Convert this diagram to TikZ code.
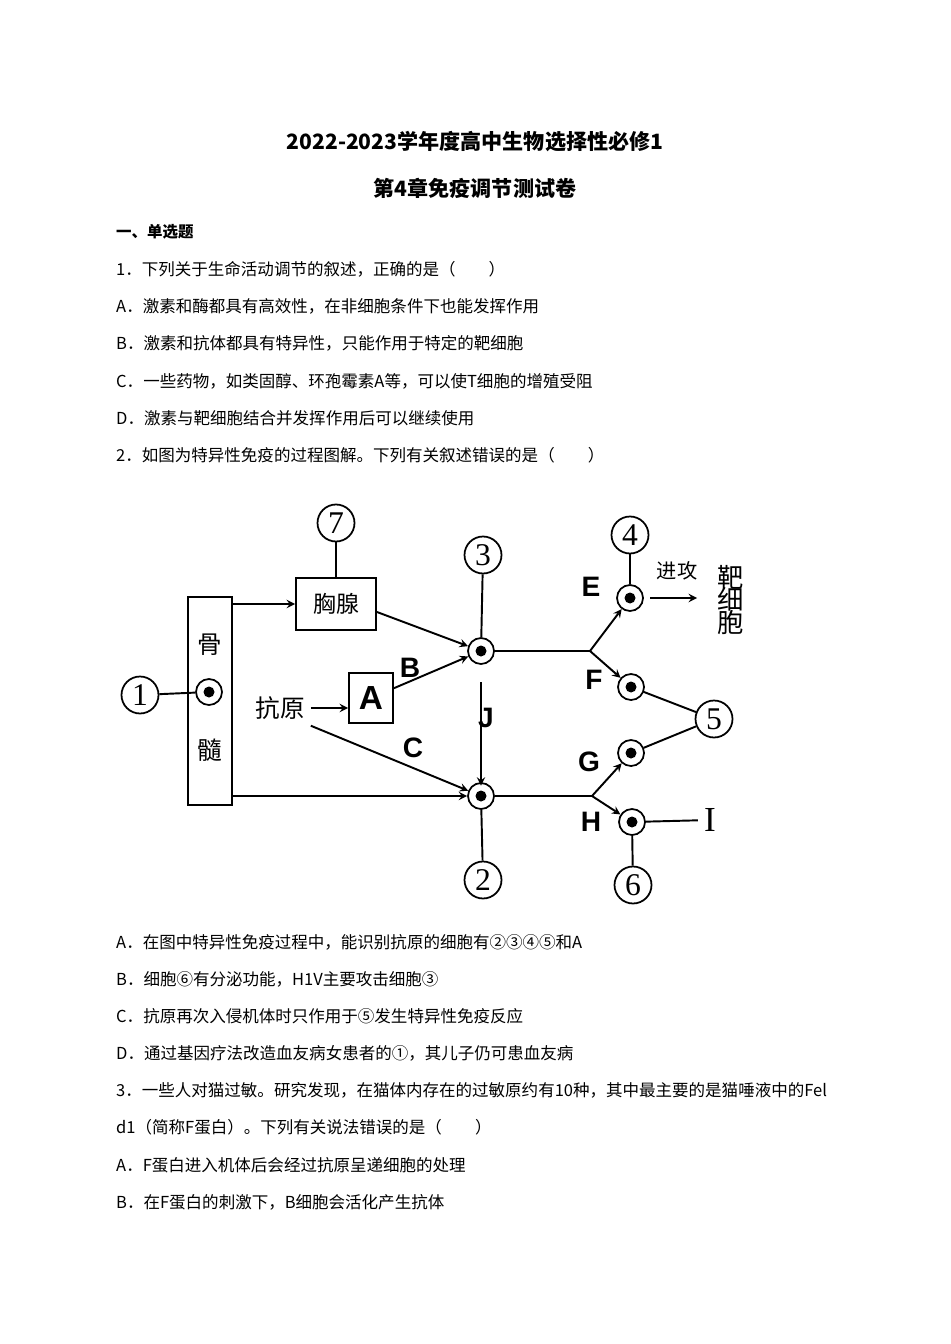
\documentclass[tikz,border=0pt]{standalone}
\usepackage{fontspec}
\setmainfont{Noto Sans CJK SC}
\newfontfamily\lab{Liberation Sans}
\newfontfamily\num{Liberation Serif}
\usetikzlibrary{positioning}
\tikzset{
    cell/.style={
    circle,draw=black,line width=1pt,minimum size=5.2mm,inner sep=0pt,
    path picture={\fill (path picture bounding box.center) circle (1.1mm);}
    },
    tag/.style={
    circle,draw=black,line width=1pt,minimum size=7.4mm,inner sep=0pt,font=\num\fontsize{18}{18}\selectfont
    },
    organ/.style={
    rectangle,draw=black,line width=1.1pt,font=\fontsize{13}{13}\selectfont
    },
    letter/.style={
    font=\lab\bfseries\fontsize{16}{16}\selectfont
    },
    line/.style={
    anchor=west,font=\fontsize{9.4}{9.4}\selectfont
    },
    conn/.style={line width=1.1pt},
}
\begin{document}
\begin{tikzpicture}[x=0.02cm,y=-0.02cm,>=stealth]
   \useasboundingbox (0,0) rectangle (950,1344);
   % header
   \node[font=\bfseries\fontsize{12}{12}\selectfont] (title1) at (475,142) {2022-2023学年度高中生物选择性必修1};
   \node[font=\bfseries\fontsize{12}{12}\selectfont] (title2) at (475,188) {第4章免疫调节测试卷};
   \node[line,font=\bfseries\fontsize{8.8}{8.8}\selectfont] (sec) at (110,232) {一、单选题};
   \node[line] (q1)  at (110,269) {1．下列关于生命活动调节的叙述，正确的是（　　）};
   \node[line] (q1a) at (110,306) {A．激素和酶都具有高效性，在非细胞条件下也能发挥作用};
   \node[line] (q1b) at (110,343) {B．激素和抗体都具有特异性，只能作用于特定的靶细胞};
   \node[line] (q1c) at (110,381) {C．一些药物，如类固醇、环孢霉素A等，可以使T细胞的增殖受阻};
   \node[line] (q1d) at (110,418) {D．激素与靶细胞结合并发挥作用后可以继续使用};
   \node[line] (q2)  at (110,455) {2．如图为特异性免疫的过程图解。下列有关叙述错误的是（　　）};

   % diagram
   \node[draw=black,line width=1.1pt,minimum width=8.8mm,minimum height=41.6mm] (marrow) at (210,701) {};
   \node[font=\fontsize{14}{14}\selectfont] (gu) at (210,645) {骨};
   \node[font=\fontsize{14}{14}\selectfont] (sui) at (210,750) {髓};
   \node[cell] (stem) at (209,692) {};
   \node[tag] (t1) at (140,695) {1};
   \node[organ,minimum width=16mm,minimum height=10.4mm] (thymus) at (336,604) {胸腺};
   \node[tag] (t7) at (336,523) {7};
   \node[font=\fontsize{14}{14}\selectfont] (antigen) at (280,708) {抗原};
   \node[organ,minimum width=8.8mm,minimum height=10mm,font=\lab\bfseries\fontsize{19}{19}\selectfont] (A) at (371,698) {A};
   \node[cell] (c3) at (481,651) {};
   \node[tag] (t3) at (483,555) {3};
   \node[cell] (c2) at (481,796) {};
   \node[tag] (t2) at (483,880) {2};
   \coordinate (fork1) at (590,651);
   \coordinate (fork2) at (592,796);
   \node[cell] (c4) at (630,598) {};
   \node[tag] (t4) at (630,535) {4};
   \node[cell] (cf) at (631,687) {};
   \node[cell] (cg) at (631,753) {};
   \node[tag] (t5) at (714,719) {5};
   \node[cell] (ch) at (632,822) {};
   \node[tag] (t6) at (633,885) {6};
   \node[font=\num\fontsize{20}{20}\selectfont] (I) at (710,820) {I};
   \node[font=\fontsize{11.5}{11.5}\selectfont] (attack) at (677,571) {进攻};
   \node[font=\fontsize{15}{15}\selectfont,align=center,inner sep=0pt] (target) at (731,600) {靶\\[-2pt]细\\[-2pt]胞};
   \coordinate (tgt) at (697,598);
   % letters
   \node[letter] (lB) at (410,668) {B};
   \node[letter] (lC) at (413,748) {C};
   \node[letter] (lJ) at (486,718) {J};
   \node[letter] (lE) at (591,587) {E};
   \node[letter] (lF) at (594,680) {F};
   \node[letter] (lG) at (589,762) {G};
   \node[letter] (lH) at (591,822) {H};

   \draw[conn] (t1) -- (stem);
   \draw[conn] (t7) -- (thymus);
   \draw[conn,->] (marrow.east |- thymus) -- (thymus);
   \draw[conn,->] (thymus.east) ++(0,8) -- (c3);
   \draw[conn,->] (antigen.east) -- (A.west |- antigen);
   \draw[conn,->] (A) -- (c3);
   \draw[conn,->] (antigen.south east) -- (c2);
   \draw[conn,->] (marrow.east |- c2) -- (c2);
   \draw[conn] (t3) -- (c3);
   \draw[conn,->] ([yshift=-10pt]c3.south) -- ([yshift=-2pt]c2.north);
   \draw[conn] (c2) -- (t2);
   \draw[conn] (c3) -- (fork1);
   \draw[conn,->] (fork1) -- (c4);
   \draw[conn,->] (fork1) -- (cf);
   \draw[conn] (c2) -- (fork2);
   \draw[conn,->] (fork2) -- (cg);
   \draw[conn,->] (fork2) -- (ch);
   \draw[conn] (t4) -- (c4);
   \draw[conn,->] (c4) ++(20,0) -- (tgt);
   \draw[conn] (cf) -- (t5);
   \draw[conn] (cg) -- (t5);
   \draw[conn] (ch) -- (I);
   \draw[conn] (ch) -- (t6);

   % options
   \node[line] (q2a) at (110,942)  {A．在图中特异性免疫过程中，能识别抗原的细胞有②③④⑤和A};
   \node[line] (q2b) at (110,979)  {B．细胞⑥有分泌功能，H1V主要攻击细胞③};
   \node[line] (q2c) at (110,1016) {C．抗原再次入侵机体时只作用于⑤发生特异性免疫反应};
   \node[line] (q2d) at (110,1053) {D．通过基因疗法改造血友病女患者的①，其儿子仍可患血友病};
   \node[line] (q3)  at (110,1090) {3．一些人对猫过敏。研究发现，在猫体内存在的过敏原约有10种，其中最主要的是猫唾液中的Fel};
   \node[line] (q3l) at (110,1127) {d1（简称F蛋白）。下列有关说法错误的是（　　）};
   \node[line] (q3a) at (110,1165) {A．F蛋白进入机体后会经过抗原呈递细胞的处理};
   \node[line] (q3b) at (110,1202) {B．在F蛋白的刺激下，B细胞会活化产生抗体};
\end{tikzpicture}
\end{document}
